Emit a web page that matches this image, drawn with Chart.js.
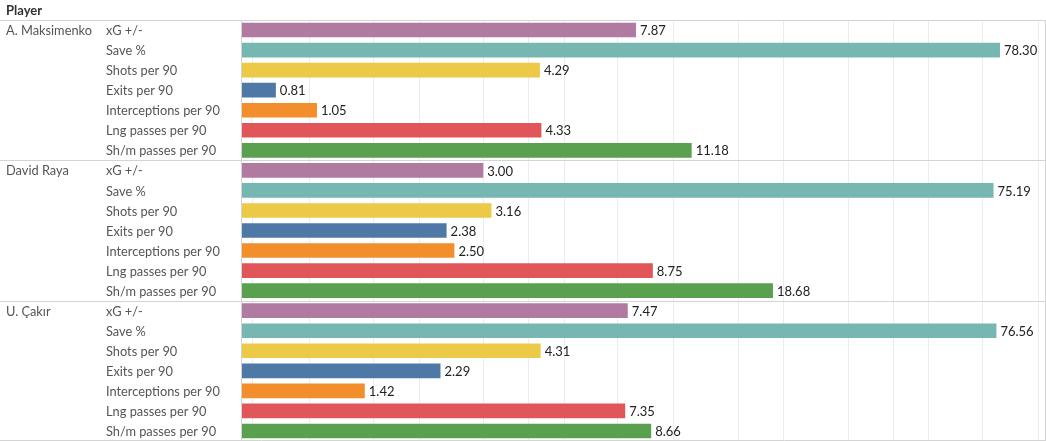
<!DOCTYPE html>
<html>
<head>
<meta charset="utf-8">
<script src="https://cdn.jsdelivr.net/npm/chart.js@4"></script>
<style>
  body { margin: 0; background: #fff; }
  #wrap { position: relative; width: 1046px; height: 441px; }
</style>
</head>
<body>
<div id="wrap"><canvas id="chart"></canvas></div>
<script>
const players = ["A. Maksimenko", "David Raya", "U. Çakır"];
const measures = ["xG +/-", "Save %", "Shots per 90", "Exits per 90", "Interceptions per 90", "Lng passes per 90", "Sh/m passes per 90"];
const measureColors = ["#b07aa1", "#76b7b2", "#edc948", "#4e79a7", "#f28e2b", "#e15759", "#59a14f"];

const maksimenkoValues = [7.87, 78.30, 4.29, 0.81, 1.05, 4.33, 11.18];
const rayaValues = [3.00, 75.19, 3.16, 2.38, 2.50, 8.75, 18.68];
const cakirValues = [7.47, 76.56, 4.31, 2.29, 1.42, 7.35, 8.66];

// log axis gridlines (no tick labels shown)
const gridTicks = [0.7, 1, 1.5, 2, 3, 4, 5, 7, 10, 15, 20, 30, 40, 50, 70, 100];

const allValues = [maksimenkoValues, rayaValues, cakirValues];
const rowLabels = [];
const playerLabels = [];
const values = [];
const colors = [];
players.forEach((p, pi) => {
    measures.forEach((m, mi) => {
        rowLabels.push(m);
        playerLabels.push(mi === 0 ? p : "");
        values.push(allValues[pi][mi]);
        colors.push(measureColors[mi]);
    });
});

const FONT = "Lato, 'Open Sans', sans-serif";
const LINE = "#d4d4d4";

const tablePlugin = {
    id: "table",
    afterDatasetsDraw(chart) {
        const { ctx, chartArea, scales } = chart;
        const meta = chart.getDatasetMeta(0);
        const y = scales.y, y2 = scales.y2;
        ctx.save();
        ctx.textBaseline = "middle";
        ctx.textAlign = "left";
        // row headers, placed by the two category axes
        ctx.font = "12.8px " + FONT;
        ctx.fillStyle = "#555";
        rowLabels.forEach((lab, i) => {
            ctx.fillText(lab, y.left, y.getPixelForValue(i) + 1);
            if (playerLabels[i]) ctx.fillText(playerLabels[i], y2.left, y2.getPixelForValue(i) + 1);
        });
        // value labels
        ctx.font = "13px " + FONT;
        ctx.fillStyle = "#222";
        meta.data.forEach((bar, i) => {
            ctx.fillText(values[i].toFixed(2), bar.x + 4, bar.y + 1);
        });
        // header
        ctx.font = "bold 13px " + FONT;
        ctx.fillStyle = "#333";
        ctx.fillText("Player", 6, 11);
        // lines
        ctx.strokeStyle = LINE;
        ctx.lineWidth = 1;
        const hLines = [chartArea.top, chartArea.bottom - 1];
        for (let g = 1; g < players.length; g++) {
            const i = g * measures.length;
            hLines.push((y.getPixelForValue(i - 1) + y.getPixelForValue(i)) / 2);
        }
        hLines.forEach(py => {
            const yy = Math.round(py) + 0.5;
            ctx.beginPath();
            ctx.moveTo(0, yy);
            ctx.lineTo(chart.width, yy);
            ctx.stroke();
        });
        [chartArea.left, chartArea.right - 1].forEach(px => {
            const xx = Math.round(px) + 0.5;
            ctx.beginPath();
            ctx.moveTo(xx, chartArea.top);
            ctx.lineTo(xx, chartArea.bottom);
            ctx.stroke();
        });
        ctx.restore();
    }
};

const noPad = s => { s.paddingTop = 0; s.paddingBottom = 0; };

const ctx = document.querySelector("#chart").getContext("2d");
const myChart = new Chart(ctx, {
    type: "bar",
    data: {
        labels: rowLabels,
        datasets: [{
            data: values,
            backgroundColor: colors,
            barPercentage: 0.73,
            categoryPercentage: 1
        }]
    },
    options: {
        indexAxis: "y",
        responsive: true,
        maintainAspectRatio: false,
        animation: false,
        layout: { padding: { top: 20, left: 6, right: 0, bottom: 0 } },
        plugins: { legend: { display: false }, tooltip: { enabled: false } },
        scales: {
            x: {
                type: "logarithmic",
                min: 0.65,
                max: 104.7,
                afterBuildTicks: s => { s.ticks = gridTicks.map(v => ({ value: v })); },
                afterFit: s => { s.height = 0; s.paddingLeft = 0; s.paddingRight = 0; },
                ticks: { display: false },
                grid: { color: "#ececec", drawTicks: false },
                border: { display: false }
            },
            y2: {
                type: "category",
                position: "left",
                weight: 1,
                labels: playerLabels,
                afterFit: s => { s.width = 100; noPad(s); },
                ticks: { display: false },
                grid: { display: false, drawTicks: false },
                border: { display: false }
            },
            y: {
                position: "left",
                weight: 0,
                afterFit: s => { s.width = 135; noPad(s); },
                ticks: { display: false },
                grid: { display: false, drawTicks: false },
                border: { display: false }
            }
        }
    },
    plugins: [tablePlugin]
});
</script>
</body>
</html>
